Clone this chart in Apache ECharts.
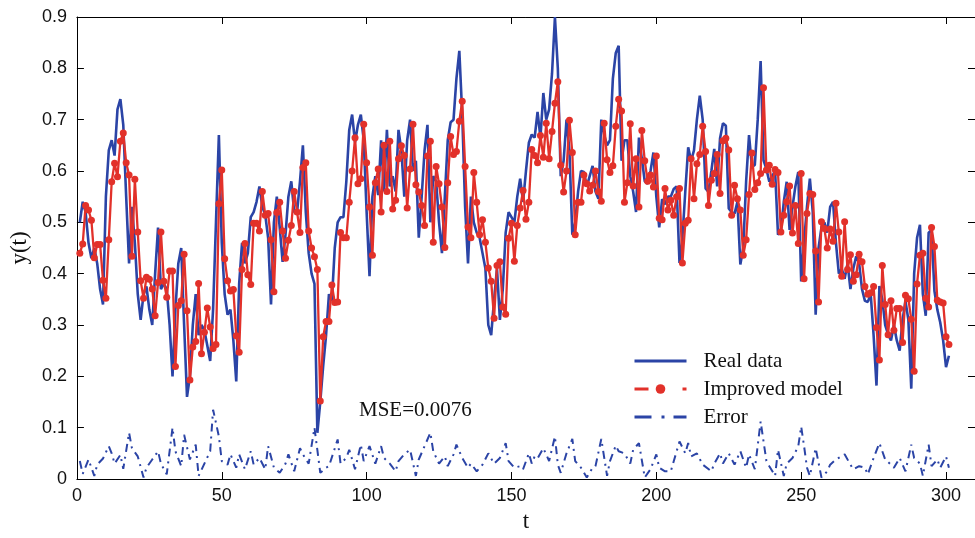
<!DOCTYPE html>
<html><head><meta charset="utf-8">
<script src="https://cdn.jsdelivr.net/npm/echarts@6/dist/echarts.min.js"></script>
<style>html,body{margin:0;padding:0;background:#fff}#c{width:975px;height:538px}</style>
</head><body><div id="c"></div>
<script>
// time index for Real data / Improved model starts at t = 1
const tStart = 1;
const realData = [
0.50,0.54,0.52,0.46,0.43,0.45,0.42,0.37,0.34,0.55,
0.64,0.66,0.63,0.72,0.74,0.69,0.55,0.42,0.53,0.46,
0.36,0.31,0.36,0.375,0.33,0.30,0.40,0.49,0.37,0.38,
0.37,0.30,0.20,0.33,0.42,0.45,0.30,0.16,0.20,0.30,
0.36,0.28,0.30,0.29,0.26,0.23,0.33,0.50,0.67,0.46,
0.36,0.32,
0.33,0.27,0.19,0.38,0.46,0.42,0.44,0.51,0.52,0.54,
0.57,0.53,0.515,0.47,0.34,0.50,0.55,0.49,0.423,0.476,
0.55,0.58,0.52,0.52,0.58,0.65,0.52,0.44,0.40,0.38,
0.09,0.15,0.22,0.28,0.36,0.347,0.45,0.50,0.51,0.51,
0.58,0.68,0.71,0.656,0.69,0.71,0.66,0.52,0.395,0.55,
0.59,0.553,0.66,0.56,0.68,0.57,0.59,0.56,0.68,0.64,
0.55,0.66,0.70,0.60,0.62,0.47,0.55,0.64,0.69,0.50,
0.59,0.58,0.50,0.44,0.55,0.66,0.695,0.70,0.78,0.834,
0.71,0.53,0.42,0.55,0.50,0.48,0.47,0.44,0.41,0.30,
0.28,0.35,0.41,0.31,0.37,0.48,0.52,0.51,0.50,0.55,
0.585,0.54,0.60,
0.655,0.671,0.665,0.715,0.665,0.752,0.70,0.72,0.79,0.90,
0.80,0.59,0.62,0.70,0.64,0.476,0.50,0.56,0.60,0.598,
0.57,0.59,0.61,0.56,0.546,0.70,0.67,0.65,0.66,0.78,
0.83,0.844,0.62,0.66,0.66,0.59,0.56,0.52,0.665,0.624,
0.58,0.575,0.60,0.636,0.55,0.49,0.545,0.535,0.55,0.55,
0.565,
0.57,0.421,0.47,0.56,0.646,0.62,0.64,0.70,0.747,0.70,
0.566,0.559,0.60,0.643,0.57,0.664,0.693,0.688,0.527,0.52,
0.517,0.54,0.418,0.45,0.58,0.67,0.608,0.612,0.70,0.814,
0.621,0.604,0.579,0.59,0.60,0.476,0.482,0.54,0.579,0.485,
0.53,0.57,0.598,0.385,0.462,0.53,0.585,0.52,0.32,0.45,
0.49,0.50,
0.48,0.53,0.54,0.46,0.40,0.41,0.39,0.42,0.37,0.41,
0.434,0.42,0.37,0.347,0.345,0.36,0.28,0.182,0.376,0.35,
0.30,0.282,0.27,0.30,0.27,0.25,0.31,0.347,0.31,0.176,
0.40,0.47,0.495,0.36,0.318,0.48,0.485,0.366,0.33,0.305,
0.27,0.218,0.24
];
const improvedModel = [
0.44,0.458,0.533,0.524,0.504,0.431,0.457,0.457,0.387,0.352,
0.466,0.579,0.615,0.589,0.658,0.674,0.616,0.592,0.434,0.584,
0.481,0.386,0.352,0.393,0.389,0.37,0.318,0.383,0.481,0.385,
0.354,0.405,0.405,0.219,0.338,0.347,0.438,0.328,0.193,0.257,
0.268,0.381,0.244,0.286,0.333,0.296,0.254,0.262,0.536,0.602,
0.429,0.386,
0.366,0.369,0.279,0.247,0.408,0.459,0.398,0.379,0.498,0.498,
0.483,0.56,0.514,0.517,0.466,0.365,0.519,0.539,0.483,0.43,
0.465,0.494,0.56,0.52,0.48,0.607,0.616,0.483,0.45,0.433,
0.408,0.152,0.277,0.307,0.307,0.378,0.344,0.345,0.48,0.47,
0.47,0.539,0.6,0.665,0.575,0.585,0.691,0.616,
0.53,0.436,0.577,0.604,0.52,0.65,0.56,0.658,0.526,0.543,
0.624,0.649,0.63,0.528,0.604,0.691,0.573,0.559,0.533,0.494,
0.629,0.658,0.461,0.609,0.575,0.53,0.451,0.577,0.667,0.632,
0.638,0.697,0.736,0.609,0.491,0.47,0.597,0.539,0.476,0.505,
0.461,0.411,0.385,0.313,0.416,0.423,0.335,0.321,0.469,0.498,
0.424,0.494,
0.528,0.562,0.506,0.539,0.642,0.63,0.616,0.669,0.627,0.693,
0.624,0.677,0.732,0.774,0.611,0.559,0.6,0.699,0.636,0.476,
0.539,0.539,0.592,0.575,0.561,0.572,0.6,0.56,0.541,0.693,
0.622,0.597,0.61,0.687,0.74,0.717,0.539,0.577,0.692,0.571,
0.624,0.53,0.679,0.62,0.58,0.592,0.569,0.629,0.508,0.505,
0.566,
0.524,0.543,0.514,0.55,0.566,0.421,0.498,0.504,0.624,0.546,
0.614,0.632,0.687,0.638,0.533,0.582,0.595,0.632,0.556,0.659,
0.664,0.641,0.514,0.572,0.546,0.524,0.436,0.466,0.554,0.635,
0.564,0.577,0.595,0.762,0.602,0.611,0.574,0.603,0.597,0.481,
0.514,0.54,0.571,0.479,0.533,0.459,0.595,0.39,0.517,0.556,
0.554,
0.444,0.345,0.501,0.488,0.45,0.487,0.463,0.537,0.481,0.395,
0.501,0.408,0.437,0.385,0.398,0.438,0.423,0.375,0.36,0.363,
0.375,0.295,0.232,0.416,0.34,0.281,0.347,0.29,0.332,0.332,
0.266,0.358,0.351,0.311,0.21,0.38,0.436,0.44,0.352,0.335,
0.49,0.453,0.348,0.345,0.343,0.277,0.262
];
// error curve: [t, error]
const errorPoints = [
[1,.035],[2,.01],[4,.038],[6,.006],[7,.028],[9,.04],[11,.064],[12,.05],[13,.03],[15,.047],
[16,.02],[18,.09],[19,.06],[21,.044],[23,.003],[24,.022],[26,.038],[28,.054],[29,.03],[31,.009],
[33,.1],[34,.054],[36,.025],[37,.086],[39,.038],[41,.067],[42,.006],[44,.03],[46,.054],[47,.135],
[49,.083],[50,.035],[52,.028],[53,.048],[55,.022],[56,.048],[58,.019],[60,.054],[61,.028],[63,.041],
[65,.019],[66,.064],[68,.022],[70,.012],[72,.03],[73,.048],[75,.015],[77,.06],[78,.048],[80,.03],
[82,.1],[84,.012],[86,.022],[87,.025],[90,.077],[91,.03],[93,.041],[94,.057],[96,.019],[98,.067],
[99,.035],[101,.064],[103,.03],[105,.064],[106,.041],[108,.03],[110,.015],[111,.035],[113,.048],[115,.057],
[117,.006],[118,.038],[120,.064],[122,.09],[123,.054],[125,.03],[127,.044],[128,.025],[130,.048],[131,.067],
[133,.041],[135,.022],[136,.03],[138,.015],[140,.028],[142,.05],[144,.03],[146,.041],[148,.07],[149,.035],
[151,.022],[153,.025],[154,.019],[156,.05],[157,.03],[158,.044],[159,.04],[161,.06],[163,.035],[165,.083],
[166,.028],[167,.012],[169,.05],[171,.078],[172,.035],[174,.022],[176,.003],[178,.022],[179,.025],[181,.078],
[183,.006],[184,.035],[186,.065],[187,.054],[189,.05],[191,.03],[192,.057],[194,.07],[196,.003],[198,.019],
[200,.048],[201,.022],[203,.015],[205,.015],[208,.073],[210,.05],[211,.07],[212,.044],[214,.05],[216,.028],
[219,.015],[220,.03],[222,.05],[223,.03],[225,.05],[227,.028],[229,.054],[231,.022],[232,.048],[234,.019],
[236,.112],[238,.035],[239,.025],[241,.006],[242,.057],[244,.006],[245,.03],[247,.041],[249,.064],[250,.102],
[251,.064],[252,.022],[253,.006],[255,.06],[257,.003],[259,.015],[260,.028],[262,.038],[265,.048],[267,.028],
[268,.019],[270,.025],[272,.022],[273,.009],[275,.041],[277,.07],[279,.038],[281,.028],[282,.022],[284,.041],
[286,.015],[288,.067],[289,.041],[291,.03],[292,.006],[294,.067],[295,.025],[297,.038],[298,.022],[300,.044],
[301,.022]
];
const seriesNames = ['Real data', 'Improved model', 'Error'];
const xTickLabels = ['0','50','100','150','200','250','300'];
const yTickLabels = ['0','0.1','0.2','0.3','0.4','0.5','0.6','0.7','0.8','0.9'];
const annotation = 'MSE=0.0076';

const BLUE = '#2b44a6', RED = '#e2312a';
const chart = echarts.init(document.getElementById('c'), null, {renderer: 'canvas'});
const toPairs = arr => arr.map((v, i) => [tStart + i, v]);
const axisCommon = {
  axisLine: {show: true, onZero: false, lineStyle: {color: '#000', width: 1}},
  axisTick: {show: true, inside: true, length: 7, lineStyle: {color: '#000', width: 1}},
  splitLine: {show: false}
};
chart.setOption({
  animation: false,
  backgroundColor: '#fff',
  title: {text: annotation, left: 359, top: 400, padding: 0,
    textStyle: {fontFamily: 'Liberation Serif', fontSize: 21, fontWeight: 'normal', color: '#111'}},
  grid: {left: 76, top: 17, width: 906, height: 466},
  legend: {
    orient: 'vertical', left: 628, top: 345, itemWidth: 52, itemHeight: 12, itemGap: 6,
    textStyle: {fontFamily: 'Liberation Serif', fontSize: 21, color: '#111', lineHeight: 22, padding: [0, 0, 0, 12]},
    data: [
      {name: seriesNames[0], itemStyle: {opacity: 0}, lineStyle: {width: 3}},
      {name: seriesNames[1], lineStyle: {type: [14, 34], width: 3}},
      {name: seriesNames[2], itemStyle: {opacity: 0}, lineStyle: {type: [17, 10, 3, 9], width: 3}}
    ]
  },
  xAxis: [
    Object.assign({type: 'value', min: 0, max: 310, interval: 50, position: 'bottom',
      axisLabel: {fontFamily: 'Liberation Sans', fontSize: 18, color: '#111', margin: 8, showMaxLabel: false,
        formatter: v => xTickLabels[Math.round(v / 50)] ?? ''},
      name: 't', nameLocation: 'middle', nameGap: 31,
      nameTextStyle: {fontFamily: 'Liberation Serif', fontSize: 23, color: '#111'}}, axisCommon),
    Object.assign({type: 'value', min: 0, max: 310, interval: 50, position: 'top',
      axisLabel: {show: false}}, axisCommon)
  ],
  yAxis: [
    Object.assign({type: 'value', min: 0, max: 0.9, interval: 0.1, position: 'left',
      axisLabel: {fontFamily: 'Liberation Sans', fontSize: 18, color: '#111', margin: 10,
        formatter: v => yTickLabels[Math.round(v * 10)] ?? ''},
      name: 'y(t)', nameLocation: 'middle', nameGap: 36, nameRotate: 90,
      nameTextStyle: {fontFamily: 'Liberation Serif', fontSize: 23, color: '#111'}}, axisCommon),
    Object.assign({type: 'value', min: 0, max: 0.9, interval: 0.1, position: 'right',
      axisLabel: {show: false}}, axisCommon)
  ],
  series: [
    {name: seriesNames[0], type: 'line', data: toPairs(realData), symbol: 'none', showSymbol: false,
      lineStyle: {color: BLUE, width: 2.6}, itemStyle: {color: BLUE}, z: 2},
    {name: seriesNames[1], type: 'line', data: toPairs(improvedModel), symbol: 'circle', symbolSize: 7,
      showAllSymbol: true, lineStyle: {color: RED, width: 2.3}, itemStyle: {color: RED}, z: 3},
    {name: seriesNames[2], type: 'line', data: errorPoints, symbol: 'none', showSymbol: false,
      lineStyle: {color: BLUE, width: 2, type: [8, 5, 2, 5]}, itemStyle: {color: BLUE}, z: 4}
  ]
});
</script>
</body></html>
